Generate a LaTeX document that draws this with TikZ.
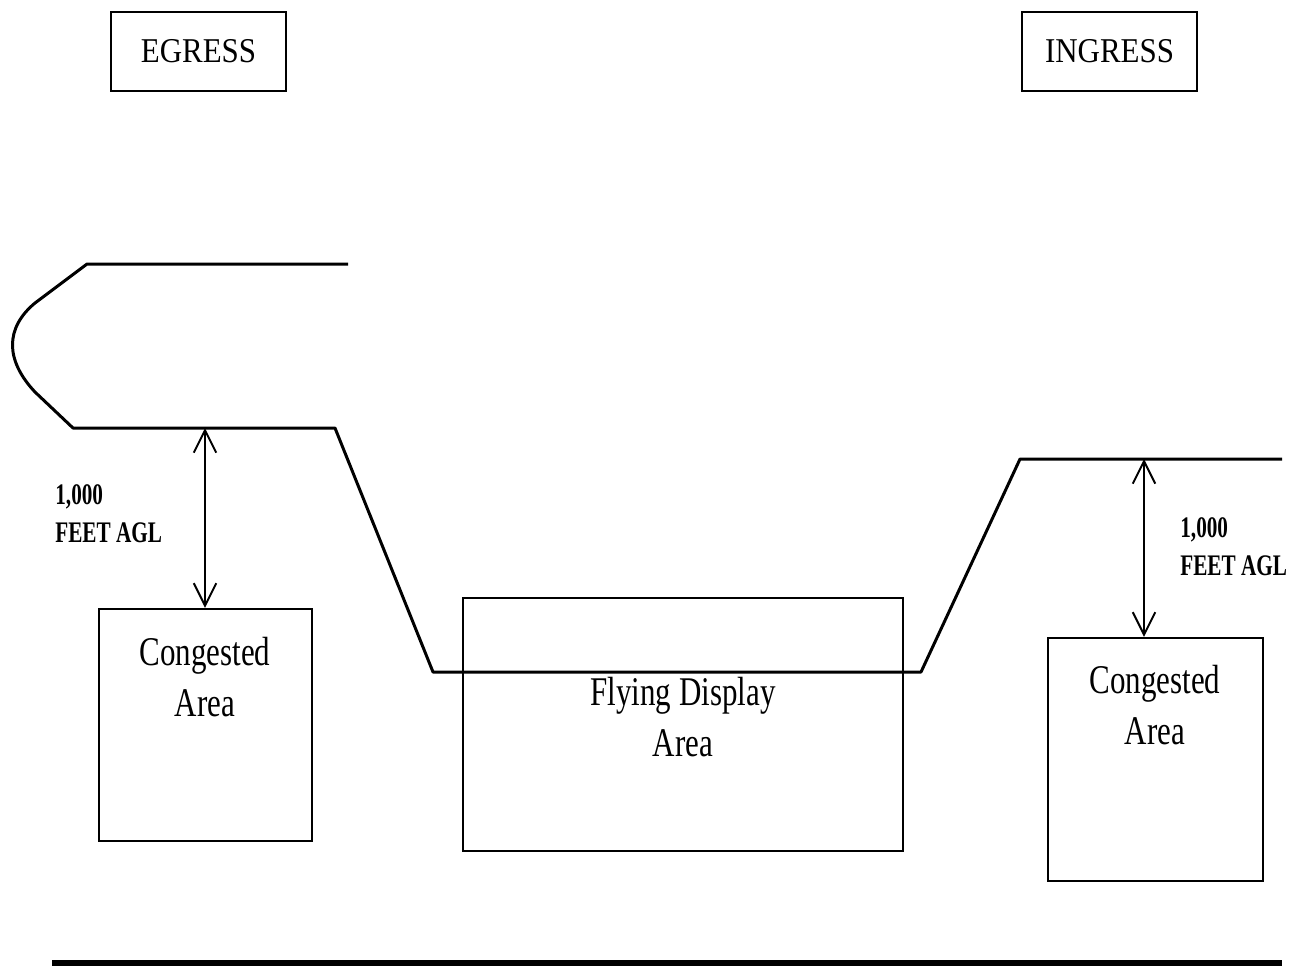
\documentclass[tikz,border=0pt]{standalone}
\usepackage{fontspec}
\setmainfont{Liberation Serif}
\newfontfamily\tallfont[FakeStretch=0.76]{Liberation Serif}
\newfontfamily\headfont[FakeStretch=0.89]{Liberation Serif}
\newfontfamily\aglfont[FakeStretch=0.71]{Liberation Serif}
\usetikzlibrary{positioning, calc, arrows.meta}
\tikzstyle{Box} = [
draw,
line width=1.4pt,
inner sep=0pt]
\tikzstyle{HeadBox} = [
Box,
minimum width=3.5cm,
minimum height=1.58cm,
font=\headfont\fontsize{19.8}{24}\selectfont]
\tikzstyle{AreaText} = [
align=center,
inner sep=0pt,
font=\tallfont\fontsize{23.2}{28.5}\selectfont]
\tikzstyle{AglText} = [
align=left,
inner sep=0pt,
font=\aglfont\bfseries\fontsize{17}{21.6}\selectfont]
\tikzstyle{FlightPath} = [
line width=1.7pt,
line join=round]
\tikzstyle{Arrow} = [
line width=1.1pt,
{Straight Barb[length=0.45cm, width=0.45cm, line width=1.1pt]}-{Straight Barb[length=0.45cm, width=0.45cm, line width=1.1pt]}]
\tikzstyle{Ground} = [
line width=2.9pt]

\begin{document}
\begin{tikzpicture}[x=0.02cm, y=-0.02cm]
    \useasboundingbox (0,0) rectangle (1293,965);
    \node [HeadBox] (1) at (198.5,51.5) {EGRESS};
    \node [HeadBox] (2) at (1109.5,51.5) {INGRESS};
    \node [Box, minimum width=4.26cm, minimum height=4.64cm] (3) at (205.5,725) {};
    \node [Box, minimum width=8.8cm, minimum height=5.06cm] (4) at (683,724.5) {};
    \node [Box, minimum width=4.3cm, minimum height=4.86cm] (5) at (1155.5,759.5) {};
    \node [AreaText] (6) at (205,677) {Congested\\Area};
    \node [AreaText] (7) at (683,717) {Flying Display\\Area};
    \node [AreaText] (8) at (1155,705) {Congested\\Area};
    \node [AglText, anchor=west] (9) at (55,514) {1,000\\FEET AGL};
    \node [AglText, anchor=west] (10) at (1180,547) {1,000\\FEET AGL};

    % flight path, egress on the left, ingress on the right
    \coordinate (11) at (205,428);
    \coordinate (12) at (1144,459);
    \draw[FlightPath] (348,264) -- (87,264) -- (35,303)
        .. controls (5,328) and (5,360) .. (35,392) -- (73,428)
        -- (335,428) -- (433,672) -- (921,672) -- (1020,459) -- (1282,459);

    \draw[Arrow] (11) -- (11 |- 3.north);
    \draw[Arrow] (12) -- (12 |- 5.north);
    \draw[Ground] (52,963) -- (1282,963);
\end{tikzpicture}
\end{document}
